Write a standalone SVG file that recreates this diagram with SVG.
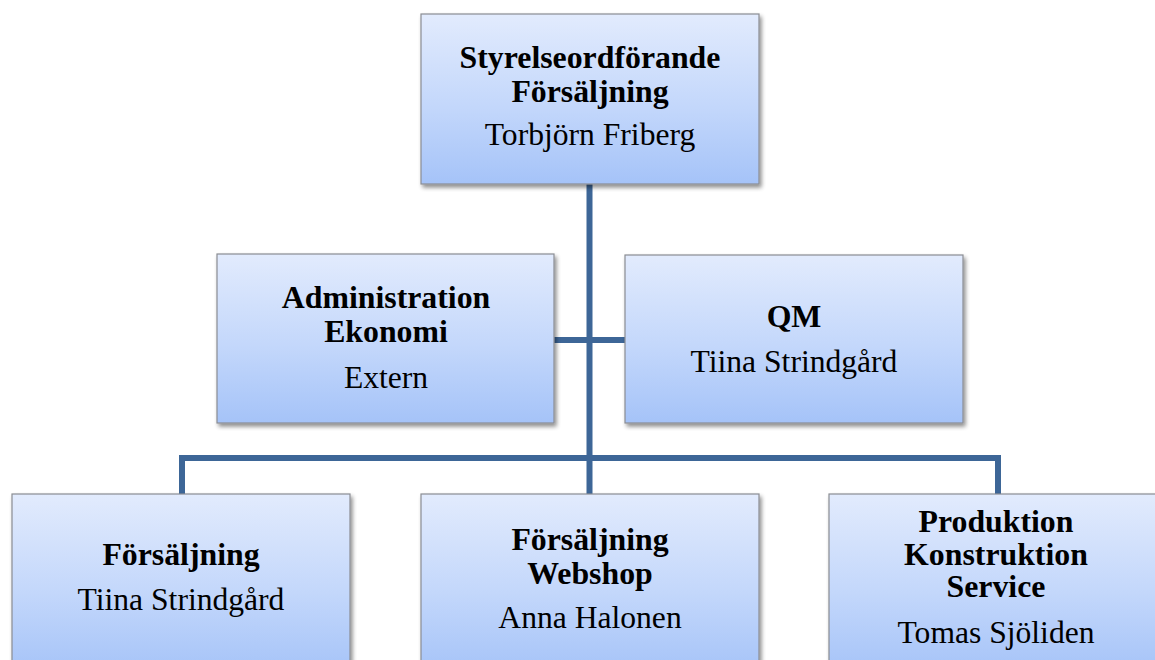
<svg xmlns="http://www.w3.org/2000/svg" width="1155" height="660" viewBox="0 0 1155 660">
<defs>
<linearGradient id="g" x1="0" y1="0" x2="0" y2="1">
<stop offset="0" stop-color="#e2ebfd"/>
<stop offset="0.55" stop-color="#c3d7fb"/>
<stop offset="1" stop-color="#a5c3f8"/>
</linearGradient>
<filter id="sh" x="-5%" y="-5%" width="112%" height="115%">
<feGaussianBlur in="SourceAlpha" stdDeviation="2"/>
<feOffset dx="2" dy="3" result="o"/>
<feComponentTransfer><feFuncA type="linear" slope="0.45"/></feComponentTransfer>
<feMerge><feMergeNode/><feMergeNode in="SourceGraphic"/></feMerge>
</filter>
</defs>
<style>
.box{fill:url(#g);stroke:#8a8d93;stroke-width:1.2;filter:url(#sh)}
.b{font-family:"Liberation Serif","Times New Roman",serif;font-weight:bold;font-size:31.8px;fill:#000;text-anchor:middle}
.r{font-family:"Liberation Serif","Times New Roman",serif;font-size:31.6px;fill:#000;text-anchor:middle}
.c{stroke:#3d6697;stroke-width:6;fill:none;stroke-linejoin:miter}
</style>
<rect width="1155" height="660" fill="#ffffff"/>
<g id="connectors">
<line class="c" x1="589.5" y1="184" x2="589.5" y2="494"/>
<line class="c" x1="554" y1="340" x2="625" y2="340"/>
<path class="c" d="M182 494 V458 H998 V494"/>
</g>
<g id="n-top">
<rect class="box" x="421" y="14" width="338" height="170"/>
<text class="b" x="590" y="68">Styrelseordförande</text>
<text class="b" x="590" y="102">Försäljning</text>
<text class="r" x="590" y="145">Torbjörn Friberg</text>
</g>
<g id="n-admin">
<rect class="box" x="217" y="254" width="337" height="169"/>
<text class="b" x="386" y="308">Administration</text>
<text class="b" x="386" y="342">Ekonomi</text>
<text class="r" x="386" y="388">Extern</text>
</g>
<g id="n-qm">
<rect class="box" x="625" y="255" width="338" height="168"/>
<text class="b" x="794" y="327">QM</text>
<text class="r" x="794" y="372">Tiina Strindgård</text>
</g>
<g id="n-fors">
<rect class="box" x="12" y="494" width="338" height="180"/>
<text class="b" x="181" y="565">Försäljning</text>
<text class="r" x="181" y="610">Tiina Strindgård</text>
</g>
<g id="n-web">
<rect class="box" x="421" y="494" width="338" height="180"/>
<text class="b" x="590" y="550">Försäljning</text>
<text class="b" x="590" y="584">Webshop</text>
<text class="r" x="590" y="628">Anna Halonen</text>
</g>
<g id="n-prod">
<rect class="box" x="829" y="494" width="338" height="180"/>
<text class="b" x="996" y="532">Produktion</text>
<text class="b" x="996" y="565">Konstruktion</text>
<text class="b" x="996" y="597">Service</text>
<text class="r" x="996" y="643">Tomas Sjöliden</text>
</g>
</svg>
